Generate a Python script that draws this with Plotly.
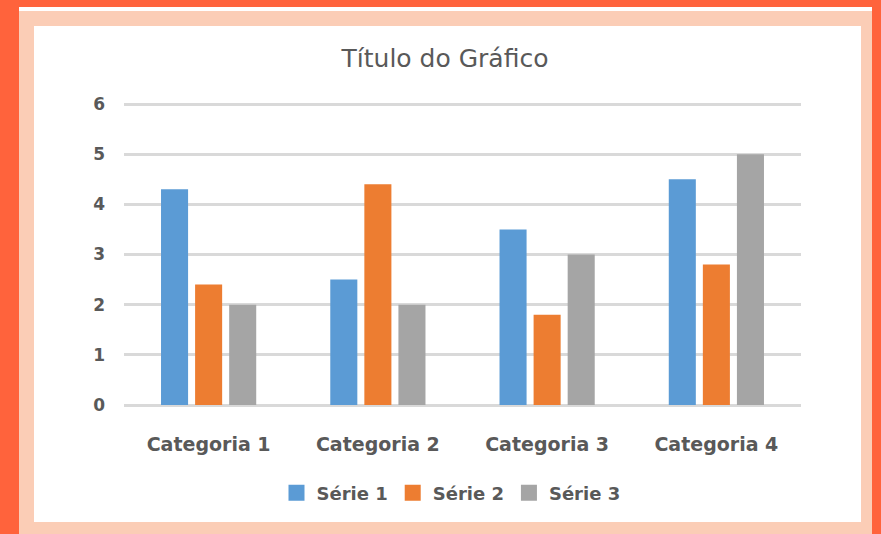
import plotly.graph_objects as go

categories = ["Categoria 1", "Categoria 2", "Categoria 3", "Categoria 4"]
series_names = ["Série 1", "Série 2", "Série 3"]
serie1 = [4.3, 2.5, 3.5, 4.5]
serie2 = [2.4, 4.4, 1.8, 2.8]
serie3 = [2.0, 2.0, 3.0, 5.0]
colors = ["#5B9BD5", "#ED7D31", "#A5A5A5"]
y_ticks = [0, 1, 2, 3, 4, 5, 6]
title_text = "Título do Gráfico"

W, H = 881, 534
YMAX = 6.04
unit = (405 - 104) / 6.0
L, R, B = 124, 801, 405
T = B - YMAX * unit
pw, ph = R - L, B - T

def px(x):
    return (x - L) / pw

def py(y):
    return (B - y) / ph

fig = go.Figure()
for name, vals, c in zip(series_names, [serie1, serie2, serie3], colors):
    fig.add_trace(go.Bar(x=categories, y=vals, name=name, marker=dict(color=c, line=dict(width=0)),
                         showlegend=False))
    fig.add_trace(go.Scatter(x=[None], y=[None], mode="markers", name=name,
                             marker=dict(symbol="square", size=16, color=c)))

shapes = [
    dict(type="rect", xref="paper", yref="paper", x0=px(19), x1=px(872), y0=py(560), y1=py(11),
         fillcolor="#FBCDB6", line=dict(width=0), layer="below"),
    dict(type="rect", xref="paper", yref="paper", x0=px(19), x1=px(872), y0=py(11), y1=py(7),
         fillcolor="#FFFFFF", line=dict(width=0), layer="below"),
    dict(type="rect", xref="paper", yref="paper", x0=px(34), x1=px(861), y0=py(522), y1=py(26),
         fillcolor="#FFFFFF", line=dict(width=0), layer="below"),
]

fig.update_layout(
    width=W, height=H,
    margin=dict(l=L, r=W - R, t=T, b=H - B, autoexpand=False),
    paper_bgcolor="#FF633C",
    plot_bgcolor="rgba(0,0,0,0)",
    barmode="group", bargap=0.396, bargroupgap=0.206,
    shapes=shapes,
    title=dict(text=title_text, x=px(445), xref="paper", xanchor="center",
               y=1 - 58 / H, yref="container", yanchor="middle",
               font=dict(family="DejaVu Sans", size=25, color="#595959")),
    legend=dict(orientation="h", x=px(451), xanchor="center", y=py(493), yanchor="middle",
                font=dict(family="DejaVu Sans", size=18, color="#595959", weight="bold"),
                bgcolor="rgba(0,0,0,0)", itemwidth=30, tracegroupgap=0),
    font=dict(family="DejaVu Sans", color="#595959"),
)
fig.update_xaxes(showgrid=False, showline=False, zeroline=False, ticks="",
                 ticklabelstandoff=26,
                 tickfont=dict(family="DejaVu Sans", size=19, color="#595959", weight="bold"))
fig.update_yaxes(range=[0, YMAX], tickvals=y_ticks, showgrid=True, gridcolor="#D9D9D9", gridwidth=3,
                 zeroline=True, zerolinecolor="#D9D9D9", zerolinewidth=3, showline=False, ticks="",
                 ticklabelstandoff=18,
                 tickfont=dict(family="DejaVu Sans", size=17, color="#595959", weight="bold"))

fig.write_html("out.html", config={"displayModeBar": False},
               post_script="document.body.style.margin='0';document.body.style.overflow='hidden';")
